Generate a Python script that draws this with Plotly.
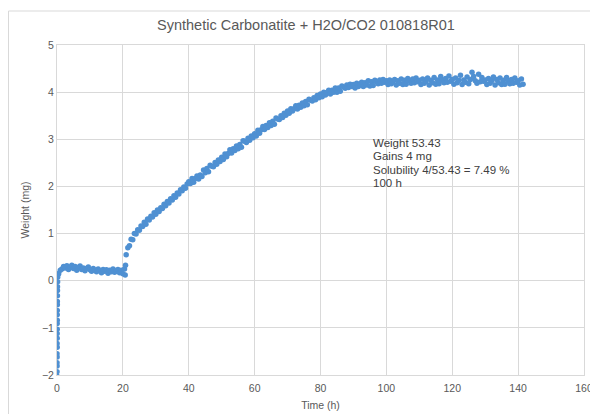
import plotly.graph_objects as go

# ---- data ----
drop_time = [0.0, 0.0, 0.02, 0.0, 0.03, 0.0, 0.05, 0.02, 0.05, 0.04, 0.06, 0.05,
             0.08, 0.06, 0.08, 0.1, 0.1, 0.12, 0.14, 0.15, 0.18, 0.22, 0.3]
drop_weight = [-2.02, -1.93, -1.81, -1.74, -1.62, -1.55, -1.41, -1.33, -1.22, -1.12,
               -1.03, -0.91, -0.84, -0.72, -0.63, -0.51, -0.44, -0.32, -0.21, -0.13,
               -0.02, 0.08, 0.14]

time_h = [
    0.5, 1.0, 1.5, 2.0, 2.5, 3.0, 3.5, 4.0, 4.5, 5.0,
    5.5, 6.0, 6.5, 7.0, 7.5, 8.0, 8.5, 9.0, 9.5, 10.0,
    10.5, 11.0, 11.5, 12.0, 12.5, 13.0, 13.5, 14.0, 14.5, 15.0,
    15.5, 16.0, 16.5, 17.0, 17.5, 18.0, 18.5, 19.0, 19.5, 20.0,
    20.5, 20.7, 20.8,
    21.0, 21.5, 22.0, 22.5, 23.0, 23.5, 24.0, 24.5, 25.0, 25.5,
    26.0, 26.5, 27.0, 27.5, 28.0, 28.5, 29.0, 29.5, 30.0, 30.5,
    31.0, 31.5, 32.0, 32.5, 33.0, 33.5, 34.0, 34.5, 35.0, 35.5,
    36.0, 36.5, 37.0, 37.5, 38.0, 38.5, 39.0, 39.5,
    40.0, 40.5, 41.0, 41.5, 42.0, 42.5, 43.0, 43.5, 44.0, 44.5,
    45.0, 45.5, 46.0, 46.5, 47.0, 47.5, 48.0, 48.5, 49.0, 49.5,
    50.0, 50.5, 51.0, 51.5, 52.0, 52.5, 53.0, 53.5, 54.0, 54.5,
    55.0, 55.5, 56.0, 56.5, 57.0, 57.5, 58.0, 58.5, 59.0, 59.5,
    60.0, 60.5, 61.0, 61.5, 62.0, 62.5, 63.0, 63.5, 64.0, 64.5,
    65.0, 65.5, 66.0, 66.5, 67.0, 67.5, 68.0, 68.5, 69.0, 69.5,
    70.0, 70.5, 71.0, 71.5, 72.0, 72.5, 73.0, 73.5, 74.0, 74.5,
    75.0, 75.5, 76.0, 76.5, 77.0, 77.5, 78.0, 78.5, 79.0, 79.5,
    80.0, 80.5, 81.0, 81.5, 82.0, 82.5, 83.0, 83.5, 84.0, 84.5,
    85.0, 85.5, 86.0, 86.5, 87.0, 87.5, 88.0, 88.5, 89.0, 89.5,
    90.0, 90.5, 91.0, 91.5, 92.0, 92.5, 93.0, 93.5, 94.0, 94.5,
    95.0, 95.5, 96.0, 96.5, 97.0, 97.5, 98.0, 98.5, 99.0, 99.5,
    100.0, 100.5, 101.0, 101.5, 102.0, 102.5, 103.0, 103.5, 104.0, 104.5,
    105.0, 105.5, 106.0, 106.5, 107.0, 107.5, 108.0, 108.5, 109.0, 109.5,
    110.0, 110.5, 111.0, 111.5, 112.0, 112.5, 113.0, 113.5, 114.0, 114.5,
    115.0, 115.5, 116.0, 116.5, 117.0, 117.5, 118.0, 118.5, 119.0, 119.5,
    120.0, 120.5, 121.0, 121.5, 122.0, 122.5, 123.0, 123.5, 124.0, 124.5,
    125.0, 125.5, 126.0, 126.5, 127.0, 127.5, 128.0, 128.5, 129.0, 129.5,
    130.0, 130.5, 131.0, 131.5, 132.0, 132.5, 133.0, 133.5, 134.0, 134.5,
    135.0, 135.5, 136.0, 136.5, 137.0, 137.5, 138.0, 138.5, 139.0, 139.5,
    140.0, 140.5, 141.0, 141.5,
]
weight_mg = [
    0.15, 0.22, 0.25, 0.30, 0.27, 0.32, 0.24, 0.29, 0.33, 0.26,
    0.30, 0.22, 0.28, 0.31, 0.24, 0.27, 0.21, 0.26, 0.29, 0.23,
    0.20, 0.26, 0.22, 0.19, 0.25, 0.21, 0.17, 0.24, 0.20, 0.23,
    0.16, 0.22, 0.19, 0.25, 0.18, 0.21, 0.24, 0.17, 0.22, 0.15,
    0.25, 0.12, 0.33,
    0.55, 0.70, 0.74, 0.88, 0.87, 1.00, 0.99, 1.08, 1.07, 1.16,
    1.15, 1.24, 1.20, 1.31, 1.29, 1.37, 1.35, 1.44, 1.41, 1.50,
    1.47, 1.55, 1.53, 1.62, 1.59, 1.68, 1.65, 1.74, 1.71, 1.80,
    1.77, 1.86, 1.84, 1.93, 1.91, 1.99, 1.96, 2.05,
    2.10, 2.06, 2.17, 2.09, 2.17, 2.22, 2.16, 2.24, 2.21, 2.35,
    2.29, 2.38, 2.31, 2.45, 2.43, 2.42, 2.51, 2.47, 2.56, 2.53,
    2.62, 2.57, 2.69, 2.63, 2.70, 2.78, 2.71, 2.80, 2.76, 2.86,
    2.80, 2.89, 2.83, 2.97, 2.96, 2.93, 3.02, 2.98, 3.07, 3.03,
    3.12, 3.07, 3.19, 3.13, 3.20, 3.27, 3.21, 3.29, 3.25, 3.35,
    3.29, 3.38, 3.32, 3.45, 3.43, 3.42, 3.50, 3.46, 3.55, 3.51,
    3.60, 3.55, 3.65, 3.60, 3.65, 3.71, 3.64, 3.72, 3.68, 3.77,
    3.71, 3.80, 3.73, 3.85, 3.83, 3.81, 3.88, 3.84, 3.93, 3.88,
    3.96, 3.90, 4.00, 3.94, 3.99, 4.04, 3.96, 4.04, 4.00, 4.09,
    4.00, 4.09, 4.02, 4.13, 4.11, 4.08, 4.15, 4.10, 4.17, 4.12,
    4.16, 4.09, 4.19, 4.12, 4.17, 4.21, 4.12, 4.20, 4.15, 4.24,
    4.13, 4.22, 4.14, 4.25, 4.22, 4.18, 4.26, 4.19, 4.27, 4.21,
    4.24, 4.16, 4.26, 4.18, 4.22, 4.27, 4.15, 4.24, 4.19, 4.28,
    4.16, 4.25, 4.17, 4.29, 4.24, 4.19, 4.28, 4.20, 4.30, 4.22,
    4.25, 4.16, 4.28, 4.19, 4.23, 4.30, 4.15, 4.25, 4.20, 4.31,
    4.17, 4.26, 4.18, 4.33, 4.25, 4.20, 4.29, 4.21, 4.34, 4.23,
    4.27, 4.17, 4.30, 4.20, 4.25, 4.36, 4.16, 4.26, 4.21, 4.32,
    4.18, 4.27, 4.42, 4.33, 4.24, 4.19, 4.38, 4.22, 4.31, 4.23,
    4.26, 4.16, 4.29, 4.19, 4.24, 4.32, 4.15, 4.27, 4.20, 4.30,
    4.16, 4.25, 4.17, 4.31, 4.23, 4.18, 4.27, 4.19, 4.30, 4.21,
    4.24, 4.15, 4.28, 4.17,
]

x_ticks = [0, 20, 40, 60, 80, 100, 120, 140, 160]
y_ticks = [-2, -1, 0, 1, 2, 3, 4, 5]

title_text = "Synthetic Carbonatite + H2O/CO2 010818R01"
note_lines = ["Weight 53.43", "Gains 4 mg", "Solubility 4/53.43 = 7.49 %", "100 h"]
note_x = 95.2
note_line_y = [2.92, 2.635, 2.35, 2.065]

BLUE = "#4f90d2"
GRID = "#d9d9d9"
TXT = "#595959"
FONT = "Liberation Sans, Arial, sans-serif"

fig = go.Figure()
fig.add_trace(go.Scatter(
    x=drop_time + time_h, y=drop_weight + weight_mg,
    mode="markers",
    marker=dict(color=BLUE, size=5.5, line=dict(width=0)),
    showlegend=False,
))

for line, ly in zip(note_lines, note_line_y):
    fig.add_annotation(
        x=note_x, y=ly, xref="x", yref="y",
        text=line, showarrow=False, align="left",
        xanchor="left", yanchor="middle",
        font=dict(family=FONT, size=11.5, color="#404040"),
    )

# outer chart border (left/top visible in the reference)
fig.add_shape(type="rect", xref="paper", yref="paper",
              x0=-0.0920, x1=1.2, y0=-0.3, y1=1.103,
              line=dict(color=GRID, width=1), layer="below")

# the page body has an 8px margin, so the figure is 8px smaller than the window
fig.update_layout(
    width=590, height=406,
    margin=dict(l=49, r=14, t=37, b=39, autoexpand=False),
    paper_bgcolor="white", plot_bgcolor="white",
    title=dict(text=title_text, x=0.505, xanchor="center", y=1 - 17 / 406, yanchor="middle",
               font=dict(family=FONT, size=14.5, color=TXT)),
    font=dict(family=FONT, color=TXT),
)
fig.update_xaxes(
    range=[0, 160], tickvals=x_ticks, showgrid=True, gridcolor=GRID, gridwidth=1,
    zeroline=False, ticks="", tickfont=dict(size=10.5, color=TXT), ticklabelstandoff=3,
    title=dict(text="Time (h)", font=dict(size=10.5, color=TXT), standoff=9),
    showline=True, linecolor=GRID, mirror=True, fixedrange=True, automargin=False,
)
fig.update_yaxes(
    range=[-2, 5], tickvals=y_ticks, showgrid=True, gridcolor=GRID, gridwidth=1,
    zeroline=False, ticks="", tickfont=dict(size=10.5, color=TXT),
    title=dict(text="Weight (mg)", font=dict(size=10.5, color=TXT), standoff=10),
    showline=True, linecolor=GRID, mirror=True, fixedrange=True, automargin=False,
)

fig.write_html("out.html")
